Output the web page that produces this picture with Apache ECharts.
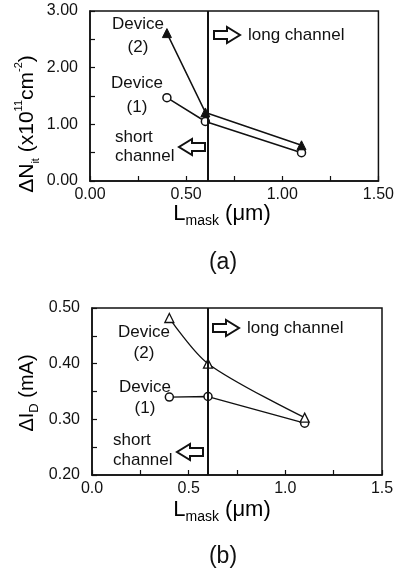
<!DOCTYPE html>
<html>
<head>
<meta charset="utf-8">
<script src="https://cdn.jsdelivr.net/npm/echarts@6/dist/echarts.min.js"></script>
<style>
  html, body { margin: 0; padding: 0; background: #fff; }
  #chart { width: 397px; height: 573px; }
</style>
</head>
<body>
<div id="chart"></div>
<script>
  // (a) interface trap increase vs mask length
  var lmaskA = [0.40, 0.60, 1.10];
  var nitDev1 = [1.47, 1.05, 0.50];
  var nitDev2 = [2.61, 1.21, 0.63];
  var boundaryA = 0.61;

  // (b) drain current change vs mask length
  var lmaskB = [0.40, 0.60, 1.10];
  var idDev1 = [0.340, 0.341, 0.293];
  var idDev2 = [0.482, 0.400, 0.303];
  var boundaryB = 0.60;

  var xTicksA = ['0.00', '0.50', '1.00', '1.50'];
  var xTicksB = ['0.0', '0.5', '1.0', '1.5'];

  var FONT = '"Liberation Sans", Arial, sans-serif';
  var INK = '#111';

  function pairs(xs, ys) {
    return xs.map(function (x, i) { return [x, ys[i]]; });
  }

  function xAxisCfg(idx, ticks) {
    return {
      type: 'value', gridIndex: idx, min: 0, max: 1.5, interval: 0.5,
      axisLine: { lineStyle: { color: INK, width: 1.5 } },
      axisTick: { inside: true, length: 5, lineStyle: { color: INK, width: 1.2 } },
      minorTick: { show: true, splitNumber: 2, length: 5, lineStyle: { color: INK, width: 1.2 } },
      splitLine: { show: false },
      axisLabel: {
        margin: 6, color: INK, fontFamily: FONT, fontSize: 16,
        formatter: function (v) { return ticks[Math.round(v / 0.5)]; }
      }
    };
  }

  function yAxisCfg(idx, min, max, interval, digits) {
    return {
      type: 'value', gridIndex: idx, min: min, max: max, interval: interval,
      axisLine: { lineStyle: { color: INK, width: 1.5 } },
      axisTick: { inside: true, length: 5, lineStyle: { color: INK, width: 1.2 } },
      minorTick: { show: true, splitNumber: 2, length: 5, lineStyle: { color: INK, width: 1.2 } },
      splitLine: { show: false },
      axisLabel: {
        margin: 12, color: INK, fontFamily: FONT, fontSize: 16,
        formatter: function (v) { return v.toFixed(digits); }
      }
    };
  }

  function boundary(x) {
    return {
      silent: true, symbol: ['none', 'none'], label: { show: false },
      lineStyle: { color: INK, width: 2, type: 'solid' },
      data: [{ xAxis: x }]
    };
  }

  function arrow(x, y, dir) {
    // outlined block arrow, x = tail end, dir = 1 right / -1 left
    var p = [[0, -4], [13, -4], [13, -8], [26, 0], [13, 8], [13, 4], [0, 4]];
    return {
      type: 'polygon',
      shape: { points: p.map(function (q) { return [x + dir * q[0], y + q[1]]; }) },
      style: { fill: '#fff', stroke: INK, lineWidth: 2 }
    };
  }

  function txt(x, y, s, size, align) {
    return {
      type: 'text', x: x, y: y,
      style: { text: s, fill: INK, font: size + 'px ' + FONT, align: align || 'center', verticalAlign: 'middle', lineHeight: 21 }
    };
  }

  function richStyles(big, small) {
    return {
      b: { fontSize: big, fontFamily: FONT, color: INK, lineHeight: 28 },
      sub: { fontSize: small, fontFamily: FONT, color: INK, lineHeight: small, verticalAlign: 'bottom' },
      sup: { fontSize: small, fontFamily: FONT, color: INK, lineHeight: small, verticalAlign: 'top' }
    };
  }

  function richText(x, y, s, big, small, rot) {
    return {
      type: 'text', x: x, y: y, rotation: rot || 0,
      style: { text: s, rich: richStyles(big, small), align: 'center', verticalAlign: 'middle' }
    };
  }

  var chart = echarts.init(document.getElementById('chart'), null, { renderer: 'canvas' });

  var option = {
    backgroundColor: '#fff',
    animation: false,
    grid: [
      { left: 90, top: 11, width: 292, height: 170, show: true, borderColor: INK, borderWidth: 1.5, backgroundColor: 'transparent' },
      { left: 92, top: 308, width: 290, height: 167, show: true, borderColor: INK, borderWidth: 1.5, backgroundColor: 'transparent' }
    ],
    xAxis: [xAxisCfg(0, xTicksA), xAxisCfg(1, xTicksB)],
    yAxis: [yAxisCfg(0, 0, 3, 1, 2), yAxisCfg(1, 0.2, 0.5, 0.1, 2)],
    series: [
      {
        name: 'Device (1) a', type: 'line', xAxisIndex: 0, yAxisIndex: 0,
        data: pairs(lmaskA, nitDev1),
        symbol: 'circle', symbolSize: 8,
        itemStyle: { color: '#fff', borderColor: INK, borderWidth: 1.5 },
        lineStyle: { color: INK, width: 1.5 },
        markLine: boundary(boundaryA),
        z: 3
      },
      {
        name: 'Device (2) a', type: 'line', xAxisIndex: 0, yAxisIndex: 0,
        data: pairs(lmaskA, nitDev2),
        symbol: 'triangle', symbolSize: 9,
        itemStyle: { color: INK, borderColor: INK, borderWidth: 1 },
        lineStyle: { color: INK, width: 1.5 },
        z: 3
      },
      {
        name: 'Device (1) b', type: 'line', xAxisIndex: 1, yAxisIndex: 1,
        data: pairs(lmaskB, idDev1),
        symbol: 'circle', symbolSize: 8,
        itemStyle: { color: '#fff', borderColor: INK, borderWidth: 1.5 },
        lineStyle: { color: INK, width: 1.3 },
        markLine: boundary(boundaryB),
        z: 3
      },
      {
        name: 'Device (2) b', type: 'line', xAxisIndex: 1, yAxisIndex: 1,
        data: pairs(lmaskB, idDev2), smooth: 0.3,
        symbol: 'triangle', symbolSize: 9,
        itemStyle: { color: '#fff', borderColor: INK, borderWidth: 1.3 },
        lineStyle: { color: INK, width: 1.3 },
        z: 3
      }
    ],
    graphic: [
      // panel (a) annotations
      txt(138, 24, 'Device', 17),
      txt(138, 47, '(2)', 17),
      txt(137, 83, 'Device', 17),
      txt(137, 107, '(1)', 17),
      arrow(214, 35, 1),
      txt(248, 35, 'long channel', 17, 'left'),
      txt(115, 137, 'short', 17, 'left'),
      txt(115, 156, 'channel', 17, 'left'),
      arrow(205, 147, -1),
      richText(222, 214, '{b|L}{sub|mask}{b| (\u03bcm)}', 22, 14),
      richText(27, 124, '{b|\u0394N}{sub|it}{b| (x10}{sup|11}{b|cm}{sup|-2}{b|)}', 21, 11, Math.PI / 2),
      txt(223, 263, '(a)', 23),
      // panel (b) annotations
      txt(144, 332, 'Device', 17),
      txt(144, 353, '(2)', 17),
      txt(145, 387, 'Device', 17),
      txt(145, 408, '(1)', 17),
      arrow(213, 328, 1),
      txt(247, 328, 'long channel', 17, 'left'),
      txt(113, 440, 'short', 17, 'left'),
      txt(113, 460, 'channel', 17, 'left'),
      arrow(203, 452, -1),
      richText(222, 510, '{b|L}{sub|mask}{b| (\u03bcm)}', 22, 14),
      richText(27, 393, '{b|\u0394I}{sub|D}{b| (mA)}', 20, 13, Math.PI / 2),
      txt(223, 557, '(b)', 23)
    ]
  };

  chart.setOption(option);
  window.addEventListener('resize', function () { chart.resize(); });
</script>
</body>
</html>
